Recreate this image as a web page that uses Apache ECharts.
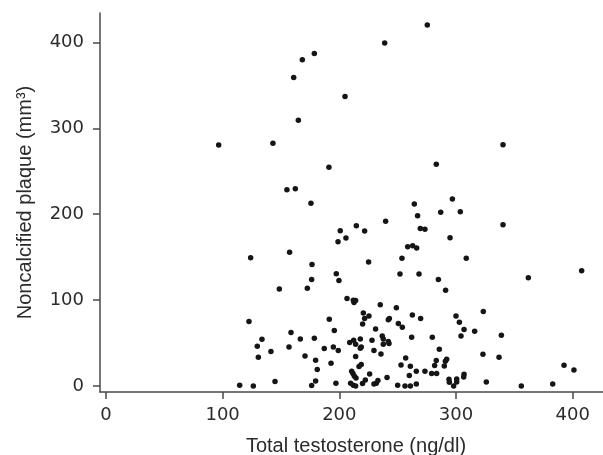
<!DOCTYPE html>
<html>
<head>
<meta charset="utf-8">
<script src="https://cdn.jsdelivr.net/npm/echarts@6/dist/echarts.min.js"></script>
<style>html,body{margin:0;padding:0;background:#fff;}#c{width:603px;height:455px;}</style>
</head>
<body>
<div id="c"></div>
<script>
// Total testosterone (ng/dl)
const testosterone = [
 96.6,143.1,160.9,168.3,178.6,164.9,191.1,155.1,162.3,204.9,238.9,275.4,340.3,283.1,296.9,
 175.7,239.7,214.6,200.8,221.7,198.9,205.7,124.0,157.4,225.1,176.6,197.4,199.7,176.3,172.6,148.6,206.6,
 212.0,214.0,212.6,235.1,248.9,220.6,225.4,221.7,242.9,242.0,191.4,122.6,220.0,250.6,231.1,195.7,158.6,
 236.8,237.7,237.7,242.0,242.6,133.7,166.6,178.6,
 212.3,218.0,208.9,214.0,218.8,218.0,228.0,129.7,156.9,187.1,194.9,199.1,229.7,141.4,235.7,130.6,170.6,214.0,
 179.7,192.9,218.8,216.9,181.1,210.6,211.7,212.8,214.3,226.0,240.9,222.3,233.1,231.7,229.7,179.7,144.9,197.1,
 209.7,212.0,214.0,219.9,176.3,114.6,126.3,250.0,
 264.3,267.1,286.9,303.7,269.4,273.4,340.3,294.9,258.6,262.9,266.3,253.7,308.8,407.7,252.0,268.3,284.9,362.0,
 291.1,323.4,262.6,269.7,300.0,302.9,254.0,306.9,316.0,304.3,338.9,262.0,279.7,285.7,256.9,323.1,336.9,
 283.1,292.0,290.9,252.9,260.9,281.7,290.0,392.6,401.1,266.0,273.4,279.1,283.4,260.0,306.9,306.6,
 294.0,300.6,294.3,300.6,326.0,266.0,256.3,260.9,298.0,356.0,382.9
];
// Noncalcified plaque (mm3)
const plaque = [
 280.7,282.7,359.2,379.8,387.2,309.5,254.7,228.6,229.7,337.0,399.3,420.3,281.0,258.2,217.7,
 212.7,191.7,186.6,180.8,180.4,168.0,172.2,149.3,155.6,144.3,141.5,130.6,122.9,124.0,113.9,112.8,101.9,
 99.9,99.5,97.3,94.5,91.0,85.1,81.6,78.6,78.6,77.0,77.8,75.1,72.3,72.8,66.5,64.6,62.3,
 58.3,54.8,48.6,51.8,49.4,54.5,54.8,55.6,
 53.3,54.8,50.6,48.6,45.5,44.0,53.3,46.3,45.5,43.6,45.5,41.3,41.3,40.1,37.3,33.5,35.0,34.3,
 30.0,26.5,25.0,22.6,19.1,17.1,14.5,11.7,9.3,14.0,9.8,7.0,6.3,3.1,2.3,5.8,5.1,3.1,
 3.1,0.8,0.0,3.0,0.5,0.8,0.0,0.8,
 211.9,198.3,202.2,203.0,183.5,182.4,187.8,172.6,162.1,163.3,160.6,148.6,148.6,134.1,130.3,130.3,124.0,126.0,
 111.6,86.8,82.8,78.6,81.6,74.3,68.5,65.8,63.8,58.3,59.1,56.8,56.8,42.8,32.7,37.0,33.5,
 29.6,31.1,28.8,24.5,23.0,23.8,23.3,24.1,18.7,17.1,17.1,14.5,14.5,12.1,13.6,10.5,
 7.8,8.2,4.3,4.7,4.7,2.3,0.0,0.0,0.0,0.0,2.3
];
const xTicks = [0, 100, 200, 300, 400];
const yTicks = [0, 100, 200, 300, 400];

const points = testosterone.map((t, i) => [t, plaque[i]]);

const chart = echarts.init(document.getElementById('c'), null, {renderer: 'canvas'});
const axisCol = '#4a4a4a';
chart.setOption({
  animation: false,
  backgroundColor: '#fff',
  grid: {left: 100, right: 0, top: 13, bottom: 63, containLabel: false, outerBoundsMode: 'none'},
  xAxis: {
    type: 'value', min: -5.1, max: 426,
    name: 'Total testosterone (ng/dl)', nameLocation: 'middle', nameGap: 44,
    nameMoveOverlap: false,
    nameTextStyle: {fontFamily: 'Liberation Sans', fontSize: 20, color: '#2b2b2b', padding: [0, 0, 0, 9]},
    axisLine: {show: true, onZero: false, lineStyle: {color: axisCol, width: 1.5}},
    axisTick: {show: true, inside: false, length: 7, customValues: xTicks, lineStyle: {color: axisCol, width: 1.5}},
    axisLabel: {customValues: xTicks, margin: 14, fontFamily: 'DejaVu Sans', fontSize: 18, color: '#2b2b2b'},
    splitLine: {show: false}
  },
  yAxis: {
    type: 'value', min: -7, max: 434.3,
    name: 'Noncalcified plaque (mm³)', nameLocation: 'middle', nameGap: 65, nameRotate: 90,
    nameMoveOverlap: false,
    nameTextStyle: {fontFamily: 'Liberation Sans', fontSize: 20, color: '#2b2b2b'},
    axisLine: {show: true, onZero: false, lineStyle: {color: axisCol, width: 1.5}},
    axisTick: {show: true, inside: false, length: 7, customValues: yTicks, lineStyle: {color: axisCol, width: 1.5}},
    axisLabel: {customValues: yTicks, margin: 16, fontFamily: 'DejaVu Sans', fontSize: 18, color: '#2b2b2b'},
    splitLine: {show: false}
  },
  series: [{
    type: 'scatter',
    data: points,
    symbol: 'circle',
    symbolSize: 5.5,
    itemStyle: {color: '#151515', opacity: 1},
    clip: false
  }]
});
</script>
</body>
</html>
